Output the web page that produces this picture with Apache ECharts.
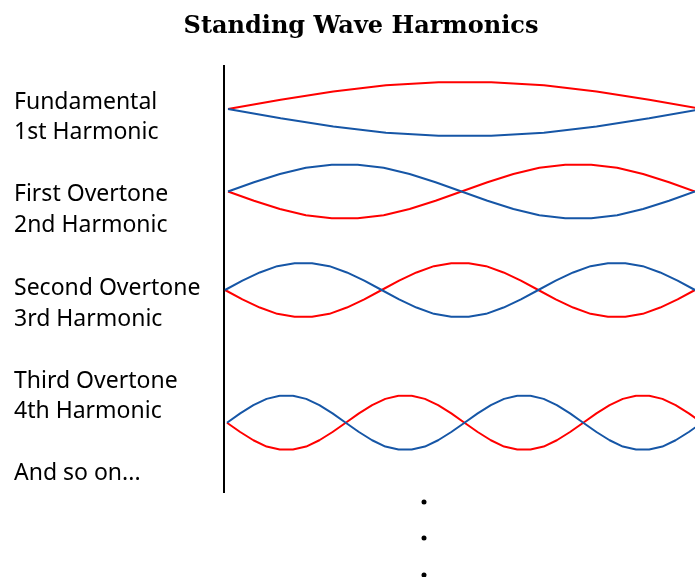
<!DOCTYPE html>
<html><head><meta charset="utf-8">
<script src="https://cdn.jsdelivr.net/npm/echarts@6/dist/echarts.min.js"></script>
<style>html,body{margin:0;padding:0;background:#fff}#c{width:695px;height:577px}</style>
</head><body><div id="c"></div>
<script>
// Labels
const titleText = 'Standing Wave Harmonics';
const harmonicNames = ['Fundamental', 'First Overtone', 'Second Overtone', 'Third Overtone'];
const harmonicOrders = ['1st Harmonic', '2nd Harmonic', '3rd Harmonic', '4th Harmonic'];
const moreLabel = 'And so on...';

// Displacement samples (one sample every 20 degrees of phase)
const fundamentalRed  = [0, 0.34, 0.64, 0.87, 0.98, 0.98, 0.87, 0.64, 0.34, 0];
const fundamentalBlue = [0, -0.34, -0.64, -0.87, -0.98, -0.98, -0.87, -0.64, -0.34, 0];
const overtone1Blue = [0, 0.34, 0.64, 0.87, 0.98, 0.98, 0.87, 0.64, 0.34, 0, -0.34, -0.64, -0.87, -0.98, -0.98, -0.87, -0.64, -0.34, 0];
const overtone1Red  = [0, -0.34, -0.64, -0.87, -0.98, -0.98, -0.87, -0.64, -0.34, 0, 0.34, 0.64, 0.87, 0.98, 0.98, 0.87, 0.64, 0.34, 0];
const overtone2Blue = [0, 0.34, 0.64, 0.87, 0.98, 0.98, 0.87, 0.64, 0.34, 0, -0.34, -0.64, -0.87, -0.98, -0.98, -0.87, -0.64, -0.34, 0, 0.34, 0.64, 0.87, 0.98, 0.98, 0.87, 0.64, 0.34, 0];
const overtone2Red  = [0, -0.34, -0.64, -0.87, -0.98, -0.98, -0.87, -0.64, -0.34, 0, 0.34, 0.64, 0.87, 0.98, 0.98, 0.87, 0.64, 0.34, 0, -0.34, -0.64, -0.87, -0.98, -0.98, -0.87, -0.64, -0.34, 0];
const overtone3Blue = [0, 0.34, 0.64, 0.87, 0.98, 0.98, 0.87, 0.64, 0.34, 0, -0.34, -0.64, -0.87, -0.98, -0.98, -0.87, -0.64, -0.34, 0, 0.34, 0.64, 0.87, 0.98, 0.98, 0.87, 0.64, 0.34, 0, -0.34, -0.64, -0.87, -0.98, -0.98, -0.87, -0.64, -0.34, 0];
const overtone3Red  = [0, -0.34, -0.64, -0.87, -0.98, -0.98, -0.87, -0.64, -0.34, 0, 0.34, 0.64, 0.87, 0.98, 0.98, 0.87, 0.64, 0.34, 0, -0.34, -0.64, -0.87, -0.98, -0.98, -0.87, -0.64, -0.34, 0, 0.34, 0.64, 0.87, 0.98, 0.98, 0.87, 0.64, 0.34, 0];
// visible part of the sample range for each harmonic (the picture is cut at its right edge)
const visibleMax = [8.87, 18, 27, 35.47];

const RED = '#ff0000', BLUE = '#1656a6';
const waves = [
  {red: fundamentalRed, blue: fundamentalBlue},
  {red: overtone1Red, blue: overtone1Blue},
  {red: overtone2Red, blue: overtone2Blue},
  {red: overtone3Red, blue: overtone3Blue}
];
// layout (pixels)
const gridLeft = [228, 228, 225, 227];
const gridCenter = [109, 191.5, 290, 422.7];
const amp = 27.4;

const chart = echarts.init(document.getElementById('c'), null, {renderer: 'canvas'});
const grids = [], xAxes = [], yAxes = [], series = [];
waves.forEach((w, i) => {
  grids.push({left: gridLeft[i], right: 0, top: gridCenter[i] - amp, height: amp * 2, containLabel: false});
  xAxes.push({type: 'value', gridIndex: i, min: 0, max: visibleMax[i], show: false});
  yAxes.push({type: 'value', gridIndex: i, min: -1, max: 1, show: false});
  series.push({type: 'line', xAxisIndex: i, yAxisIndex: i, data: w.red.map((v, k) => [k, v]),
    symbol: 'none', lineStyle: {color: RED, width: 2}, clip: true, silent: true, z: 2});
  series.push({type: 'line', xAxisIndex: i, yAxisIndex: i, data: w.blue.map((v, k) => [k, v]),
    symbol: 'none', lineStyle: {color: BLUE, width: 2}, clip: true, silent: true, z: 3});
});

const labelFont = {fontFamily: 'Noto Sans', fontSize: 23, fill: '#000'};
const graphic = [
  {type: 'text', style: {text: titleText, x: 361, y: 27, textAlign: 'center', textVerticalAlign: 'middle',
    fontFamily: 'DejaVu Serif', fontWeight: 'bold', fontSize: 24, fill: '#000'}},
  {type: 'line', shape: {x1: 224, y1: 65, x2: 224, y2: 493}, style: {stroke: '#000', lineWidth: 2}},
];
const nameY = [102, 194, 288, 381];
const orderY = [132, 225, 319, 411];
harmonicNames.forEach((t, i) => {
  graphic.push({type: 'text', style: Object.assign({text: t, x: 14, y: nameY[i], textVerticalAlign: 'middle'}, labelFont)});
  graphic.push({type: 'text', style: Object.assign({text: harmonicOrders[i], x: 14, y: orderY[i], textVerticalAlign: 'middle'}, labelFont)});
});
graphic.push({type: 'text', style: Object.assign({text: moreLabel, x: 14, y: 473, textVerticalAlign: 'middle'}, labelFont)});
[502, 538, 575].forEach(y => graphic.push({type: 'circle', shape: {cx: 424, cy: y, r: 2.5}, style: {fill: '#000'}}));

chart.setOption({
  animation: false,
  backgroundColor: '#fff',
  grid: grids, xAxis: xAxes, yAxis: yAxes, series: series,
  graphic: graphic
});
</script></body></html>
